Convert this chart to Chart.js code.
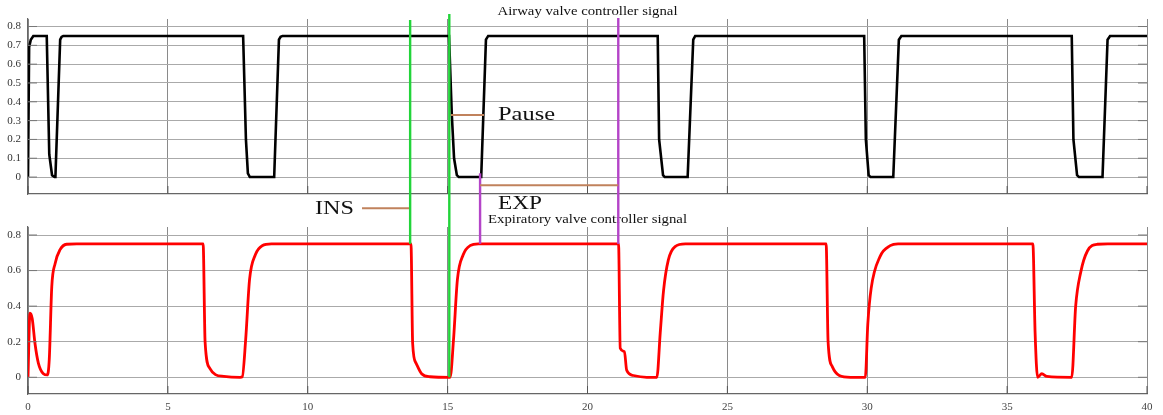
<!DOCTYPE html>
<html>
<head>
<meta charset="utf-8">
<script src="https://cdn.jsdelivr.net/npm/chart.js@4"></script>
<style>
  html, body { margin: 0; padding: 0; background: #fff; }
  #wrap { position: relative; width: 1163px; height: 415px; overflow: hidden; }
  canvas { position: absolute; left: 0; }
  #topChart { top: 0; }
  #bottomChart { top: 200px; }
  #overlay { top: 0; pointer-events: none; }
</style>
</head>
<body>
<div id="wrap">
  <canvas id="topChart" width="1163" height="208"></canvas>
  <canvas id="bottomChart" width="1163" height="215"></canvas>
  <canvas id="overlay" width="1163" height="415"></canvas>
</div>
<script>
/* === DATA === */
// Airway valve controller signal (black)
const airwayTime = [
  0, 0.04, 0.1, 0.19, 0.67, 0.76, 0.86, 0.95, 0.98, 1.15, 1.2, 1.26,
  7.69, 7.79, 7.86, 7.93, 8.8, 8.97, 9.03, 9.1,
  15.05, 15.15, 15.23, 15.33, 15.4, 16.2, 16.37, 16.45,
  22.51, 22.56, 22.7, 22.76, 23.58, 23.78, 23.85,
  29.89, 29.95, 30.05, 30.12, 30.93, 31.13, 31.22,
  37.31, 37.37, 37.5, 37.57, 38.41, 38.59, 38.68, 40
];
const airwayValue = [
  0, 0.69, 0.73, 0.75, 0.75, 0.12, 0.01, 0, 0, 0.73, 0.745, 0.75,
  0.75, 0.2, 0.02, 0, 0, 0.73, 0.745, 0.75,
  0.75, 0.33, 0.1, 0.01, 0, 0, 0.73, 0.75,
  0.75, 0.2, 0.01, 0, 0, 0.73, 0.75,
  0.75, 0.2, 0.01, 0, 0, 0.73, 0.75,
  0.75, 0.2, 0.01, 0, 0, 0.73, 0.75, 0.75
];

// Expiratory valve controller signal (red)
const expTime = [
  0, 0.07, 0.15, 0.25, 0.37, 0.55, 0.69, 0.76, 0.85, 0.97, 1.14, 1.38, 1.74,
  6.26, 6.33, 6.5, 6.7, 7.0, 7.58, 7.66, 7.78, 7.92, 8.13, 8.37, 8.7,
  13.69, 13.75, 13.87, 14.07, 14.37, 15.09, 15.21, 15.35, 15.56, 15.8, 16.1,
  21.11, 21.17, 21.32, 21.4, 21.64, 22.12, 22.48, 22.6, 22.72, 22.89, 23.13, 23.5,
  28.53, 28.6, 28.75, 29.0, 29.4, 29.93, 30.02, 30.14, 30.46, 30.82, 31.1,
  35.92, 36.0, 36.09, 36.24, 36.42, 37.31, 37.45, 37.63, 37.87, 38.22, 38.6, 40
];
const expValue = [
  0, 0.36, 0.33, 0.19, 0.08, 0.02, 0.013, 0.1, 0.51, 0.64, 0.716, 0.748, 0.75,
  0.75, 0.2, 0.05, 0.015, 0.005, 0, 0.003, 0.21, 0.55, 0.69, 0.74, 0.75,
  0.75, 0.19, 0.08, 0.02, 0.003, 0, 0.21, 0.55, 0.69, 0.74, 0.75,
  0.75, 0.163, 0.144, 0.04, 0.01, 0, 0, 0.25, 0.49, 0.66, 0.735, 0.75,
  0.75, 0.2, 0.06, 0.01, 0, 0, 0.3, 0.5, 0.68, 0.74, 0.75,
  0.75, 0.25, 0, 0.02, 0.005, 0, 0.4, 0.59, 0.71, 0.748, 0.75, 0.75
];

// tick labels
const xTicks = [0, 5, 10, 15, 20, 25, 30, 35, 40];
const yTicksTop = [0, 0.1, 0.2, 0.3, 0.4, 0.5, 0.6, 0.7, 0.8];
const yTicksBottom = [0, 0.2, 0.4, 0.6, 0.8];

// annotation markers (seconds)
const greenMarks = [13.66, 15.06];
const purpleMarks = [16.16, 21.1];
const pauseSpan = [15.12, 16.3];
const insSpan = [11.94, 13.62];

/* === HELPERS === */
const SERIF = '"Liberation Serif", "DejaVu Serif", serif';

function toPoints(xs, ys) {
  return xs.map((x, i) => ({ x: x, y: ys[i] }));
}

function makeChart(id, opts) {
  return new Chart(document.getElementById(id), {
    type: 'line',
    data: {
      datasets: [{
        data: toPoints(opts.xs, opts.ys),
        borderColor: opts.color,
        borderWidth: opts.lineWidth,
        pointRadius: 0,
        fill: false,
        tension: 0,
        cubicInterpolationMode: opts.smooth ? 'monotone' : 'default'
      }]
    },
    options: {
      responsive: false,
      animation: false,
      layout: { padding: { top: opts.padTop, right: 16, left: 0, bottom: 0 } },
      plugins: { legend: { display: false }, tooltip: { enabled: false } },
      scales: {
        x: {
          type: 'linear',
          min: 0, max: 40,
          afterBuildTicks: s => { s.ticks = xTicks.map(v => ({ value: v })); },
          afterFit: s => { s.height = opts.xHeight; },
          grid: { color: '#8a8a8a', lineWidth: 1, drawTicks: false },
          border: { display: true, color: '#666', width: 1.2 },
          ticks: {
            display: opts.showX,
            padding: 7,
            color: '#444',
            font: { family: SERIF, size: 11 },
            maxRotation: 0
          }
        },
        y: {
          min: opts.yMin, max: opts.yMax,
          afterBuildTicks: s => { s.ticks = opts.yTicks.map(v => ({ value: v })); },
          afterFit: s => { s.width = 28; },
          grid: { color: '#aaa', lineWidth: 1, drawTicks: false },
          border: { display: true, color: '#666', width: 1.2 },
          ticks: {
            padding: 7,
            color: '#333',
            font: { family: SERIF, size: 11 },
            callback: v => String(v)
          }
        }
      }
    }
  });
}

/* === CHARTS === */
// top canvas is 8px taller than its slot so the y label padding does not push the axis up
const topChart = makeChart('topChart', {
  xs: airwayTime, ys: airwayValue, color: '#000', lineWidth: 2.6, smooth: false,
  padTop: 19, xHeight: 14, showX: false,
  yMin: -0.09, yMax: 0.84, yTicks: yTicksTop
});

const bottomChart = makeChart('bottomChart', {
  xs: expTime, ys: expValue, color: '#ff0000', lineWidth: 2.8, smooth: true,
  padTop: 27, xHeight: 21, showX: true,
  yMin: -0.094, yMax: 0.845, yTicks: yTicksBottom
});

/* === OVERLAY: ticks, titles, annotations === */
const ov = document.getElementById('overlay').getContext('2d');
const BOTTOM_OFFSET = 200;

const px = t => topChart.scales.x.getPixelForValue(t);
const yTop = v => topChart.scales.y.getPixelForValue(v);
const yBot = v => bottomChart.scales.y.getPixelForValue(v) + BOTTOM_OFFSET;

function line(x1, y1, x2, y2, color, w) {
  ov.strokeStyle = color;
  ov.lineWidth = w;
  ov.beginPath();
  ov.moveTo(x1, y1);
  ov.lineTo(x2, y2);
  ov.stroke();
}

// text squeezed/stretched to the width it has in the figure
function text(str, x, baseline, size, width, align) {
  ov.save();
  ov.font = `${size}px ${SERIF}`;
  ov.fillStyle = '#111';
  const w = ov.measureText(str).width;
  const sx = width / w;
  const left = align === 'center' ? x - width / 2 : x;
  ov.translate(left, baseline);
  ov.scale(sx, 1);
  ov.textBaseline = 'alphabetic';
  ov.fillText(str, 0, 0);
  ov.restore();
}

// inner tick marks on both panels
function innerTicks(chart, yTicks, offset) {
  const a = chart.chartArea;
  yTicks.forEach(v => {
    const y = chart.scales.y.getPixelForValue(v) + offset;
    line(a.left, y, a.left + 9, y, '#777', 1);
    line(a.right - 9, y, a.right, y, '#777', 1);
  });
  xTicks.forEach(v => {
    const x = chart.scales.x.getPixelForValue(v);
    line(x, a.bottom + offset, x, a.bottom + offset - 8, '#555', 1);
  });
}
innerTicks(topChart, yTicksTop, 0);
innerTicks(bottomChart, yTicksBottom, BOTTOM_OFFSET);

// panel titles
const tA = topChart.chartArea;
const bA = bottomChart.chartArea;
text('Airway valve controller signal', (tA.left + tA.right) / 2, tA.top - 4, 13, 180, 'center');
text('Expiratory valve controller signal', (bA.left + bA.right) / 2, bA.top + BOTTOM_OFFSET - 4.5, 13, 199, 'center');

// green / purple markers
const GREEN = '#22d43a';
const PURPLE = '#b444c8';
const BROWN = '#c0825c';
line(px(greenMarks[0]), yTop(0.84) + 1, px(greenMarks[0]), yBot(0.75), GREEN, 2.4);
line(px(greenMarks[1]), yTop(0.84) - 5, px(greenMarks[1]), yBot(0), GREEN, 2.4);
line(px(purpleMarks[0]), yTop(0.02), px(purpleMarks[0]), yBot(0.75), PURPLE, 2.4);
line(px(purpleMarks[1]), yTop(0.84) - 1, px(purpleMarks[1]), yBot(0.75), PURPLE, 2.4);

// brown leader lines and labels
line(px(pauseSpan[0]), yTop(0.33), px(pauseSpan[1]), yTop(0.33), BROWN, 2);
line(px(purpleMarks[0]), yTop(-0.043), px(purpleMarks[1]), yTop(-0.043), BROWN, 2);
line(px(insSpan[0]), yBot(0.95), px(insSpan[1]), yBot(0.95), BROWN, 2);

text('Pause', px(pauseSpan[1]) + 14, yTop(0.33) + 5, 18, 57);
text('EXP', px(pauseSpan[1]) + 14, yBot(0.95) + 1, 19, 44);
text('INS', px(insSpan[0]) - 47, yBot(0.95) + 6, 18, 39);
</script>
</body>
</html>
